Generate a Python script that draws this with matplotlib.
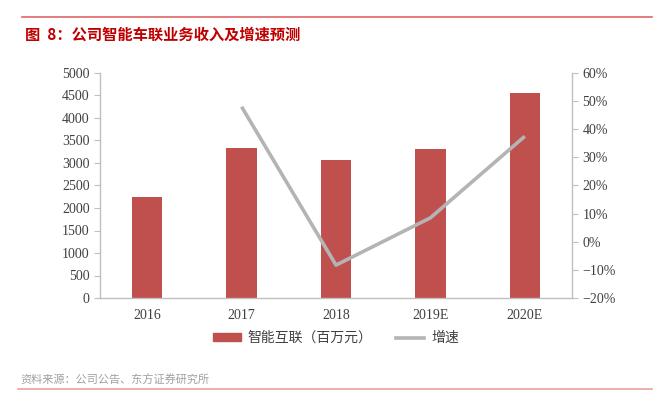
import matplotlib.pyplot as plt
from matplotlib.lines import Line2D
from matplotlib.patches import Patch

# data
years = ['2016', '2017', '2018', '2019E', '2020E']
revenue = [2250, 3330, 3060, 3300, 4560]          # 智能互联（百万元）
growth = [None, 48.0, -8.3, 8.5, 37.5]             # 增速 (%)

bar_color = '#C0504D'
line_color = '#B4B4B4'
axis_gray = '#BFBFBF'

plt.rcParams['font.family'] = ['Liberation Serif', 'Noto Sans CJK SC']

fig = plt.figure(figsize=(6.54, 3.96), dpi=100)
ax = fig.add_axes([100 / 654, 1 - 298 / 396, 472 / 654, 225 / 396])

x = list(range(len(years)))
ax.bar(x, revenue, width=0.32, color=bar_color, zorder=2)
ax.set_xlim(-0.5, len(years) - 0.5)
ax.set_ylim(0, 5000)
ax.set_yticks(range(0, 5001, 500))
ax.set_xticks(x)
ax.set_xticklabels(years)

ax2 = ax.twinx()
gx = [i for i, g in zip(x, growth) if g is not None]
gy = [g for g in growth if g is not None]
ax2.plot(gx, gy, color=line_color, lw=2.6, solid_capstyle='butt', zorder=3)
ax2.set_ylim(-20, 60)
ax2.set_yticks(range(-20, 61, 10))
ax2.set_yticklabels([f'{v}%'.replace('-', '\u2212') for v in range(-20, 61, 10)])

for a in (ax, ax2):
    a.spines['top'].set_visible(False)
    for s in ('left', 'right', 'bottom'):
        a.spines[s].set_color(axis_gray)
        a.spines[s].set_linewidth(1.0)
    a.tick_params(axis='both', colors=axis_gray, labelcolor='#404040',
                  labelsize=10, length=4, width=0.8)
ax.spines['right'].set_visible(False)
ax2.spines['left'].set_visible(False)
ax.tick_params(axis='x', length=0, pad=8)
ax2.spines['bottom'].set_visible(False)

# legend
handles = [Patch(color=bar_color), Line2D([0], [0], color=line_color, lw=2.6)]
leg = fig.legend(handles, ['智能互联（百万元）', '增速'], loc='center',
                 bbox_to_anchor=(336 / 654, 1 - 338 / 396), ncol=2, frameon=False,
                 prop={'family': 'Noto Sans CJK SC', 'size': 10},
                 handlelength=2.0, handleheight=0.45, columnspacing=1.7,
                 handletextpad=0.5)
for t in leg.get_texts():
    t.set_color('#404040')

# header / footer
fig.add_artist(Line2D([22 / 654, 652 / 654], [1 - 17 / 396] * 2,
                      color='#E06666', lw=1.2))
fig.text(25 / 654, 1 - 35 / 396, '图  8：公司智能车联业务收入及增速预测',
         family='Noto Sans CJK SC', fontsize=11, fontweight='bold',
         color='#C00000', va='center')
fig.text(20 / 654, 1 - 380 / 396, '资料来源：公司公告、东方证券研究所',
         family='Noto Sans CJK SC', fontsize=8, color='#A0A0A0', va='center')
fig.add_artist(Line2D([18 / 654, 652 / 654], [1 - 389 / 396] * 2,
                      color='#EBA0A0', lw=1.2))

fig.savefig('out.png', dpi=100)
